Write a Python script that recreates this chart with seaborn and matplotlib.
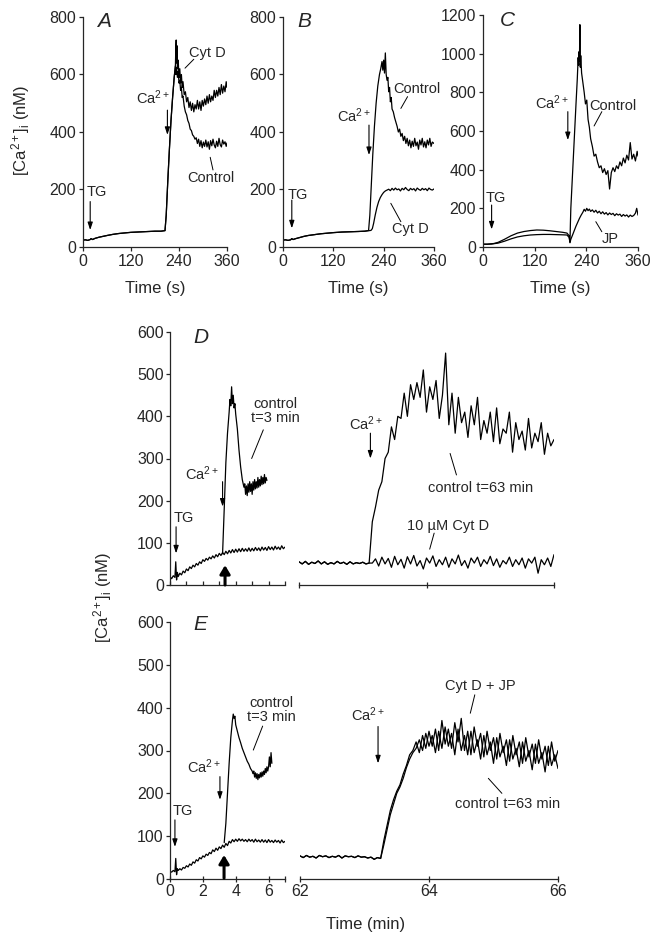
import matplotlib
matplotlib.use("Agg")
import matplotlib.pyplot as plt
import seaborn as sns

# ---- data ----
# panel A (time in s, [Ca2+]i in nM)
a_base_t = [0, 6, 12, 18, 20, 24, 30, 40, 50, 60, 75, 90, 105, 120, 135, 150, 165, 180, 195, 205]
a_base_y = [24, 25, 23, 26, 29, 26, 30, 34, 37, 40, 44, 47, 49, 51, 52, 53, 54, 55, 55, 57]
a_rise_t = [208, 212, 216, 220, 224, 228, 231]
a_rise_y = [110, 230, 340, 440, 520, 590, 630]
a_cytd_t = [232, 233, 234, 235, 236, 238, 240, 242, 244, 246, 248, 250, 253, 256, 259, 262, 265,
            268, 271, 274, 277, 280, 283, 286, 289, 292, 295, 298, 301, 304, 307, 310, 313, 316,
            319, 322, 325, 328, 331, 334, 337, 340, 343, 346, 349, 352, 355, 358, 360]
a_cytd_y = [690, 720, 640, 700, 620, 650, 590, 620, 570, 600, 555, 575, 530, 540, 505, 520, 485,
            505, 475, 500, 470, 495, 480, 510, 480, 505, 475, 510, 490, 515, 495, 525, 500, 530,
            505, 525, 510, 545, 520, 545, 525, 555, 530, 565, 535, 560, 540, 575, 555]
a_ctrl_t = [232, 234, 236, 238, 240, 242, 244, 246, 248, 250, 253, 256, 259, 262, 265, 268, 271,
            274, 277, 280, 283, 286, 289, 292, 295, 298, 301, 304, 307, 310, 313, 316, 319, 322,
            325, 328, 331, 334, 337, 340, 343, 346, 349, 352, 355, 358, 360]
a_ctrl_y = [600, 625, 590, 610, 570, 580, 545, 555, 520, 525, 490, 470, 460, 440, 430, 410, 405,
            390, 385, 375, 380, 360, 375, 350, 370, 345, 365, 350, 372, 348, 366, 340, 370, 352,
            375, 355, 345, 368, 350, 378, 356, 348, 372, 358, 366, 350, 362]

# panel B
b_base_t = [0, 6, 12, 18, 21, 24, 30, 40, 50, 60, 75, 90, 105, 120, 140, 160, 180, 195, 204]
b_base_y = [24, 25, 23, 25, 29, 26, 29, 33, 37, 40, 43, 46, 48, 50, 52, 53, 54, 55, 57]
b_ctrl_t = [207, 210, 214, 218, 222, 226, 230, 233, 236, 238, 240, 242, 244, 246, 248, 250, 252,
            254, 256, 258, 260, 263, 266, 269, 272, 275, 278, 281, 284, 287, 290, 293, 296, 299,
            302, 305, 308, 311, 314, 317, 320, 323, 326, 329, 332, 335, 338, 341, 344, 347, 350,
            353, 356, 360]
b_ctrl_y = [110, 200, 320, 420, 500, 560, 600, 620, 645, 615, 650, 605, 675, 600, 580, 590, 540,
            555, 505, 520, 480, 470, 450, 435, 420, 400, 410, 385, 395, 370, 385, 360, 378, 352,
            372, 345, 368, 350, 378, 352, 365, 340, 372, 355, 378, 348, 366, 345, 372, 355, 378,
            350, 365, 360]
b_cytd_t = [207, 210, 213, 216, 220, 224, 228, 232, 236, 240, 244, 248, 252, 256, 260, 264, 268,
            272, 276, 280, 284, 288, 292, 296, 300, 304, 308, 312, 316, 320, 324, 328, 332, 336,
            340, 344, 348, 352, 356, 360]
b_cytd_y = [57, 58, 64, 82, 112, 138, 158, 172, 182, 190, 195, 198, 201, 196, 204, 198, 205,
            199, 202, 195, 204, 199, 207, 200, 196, 204, 199, 203, 195, 205, 200, 197, 204, 199,
            203, 196, 205, 200, 198, 202]

# panel C
c_base_t = [0, 10, 20, 25, 35, 50, 65, 80, 95, 110, 125, 140, 155, 170, 185, 195, 200, 202]
c_ctrl_base_y = [15, 15, 17, 18, 24, 40, 58, 72, 80, 85, 88, 87, 84, 80, 76, 72, 58, 25]
c_jp_base_y = [14, 14, 15, 17, 20, 30, 42, 52, 58, 62, 64, 65, 65, 64, 63, 62, 50, 22]
c_ctrl_t = [203, 204, 208, 212, 216, 219, 221, 222, 223, 224, 225, 226, 227, 229, 232, 235, 238,
            241, 244, 247, 250, 254, 258, 262, 266, 270, 274, 278, 282, 286, 290, 294, 298, 302,
            306, 310, 314, 318, 322, 326, 330, 334, 338, 342, 346, 350, 354, 358, 360]
c_ctrl_y = [120, 200, 380, 560, 740, 870, 980, 940, 1010, 960, 1150, 930, 990, 900, 850, 800,
            740, 760, 660, 620, 560, 520, 470, 480, 440, 410, 420, 385, 405, 375, 395, 300, 385,
            410, 390, 420, 405, 440, 420, 460, 435, 475, 450, 540, 455, 480, 445, 495, 470]
c_jp_t = [204, 208, 212, 216, 220, 224, 228, 232, 235, 238, 241, 244, 247, 250, 254, 258, 262,
          266, 270, 274, 278, 282, 286, 290, 294, 298, 302, 306, 310, 314, 318, 322, 326, 330,
          334, 338, 342, 346, 350, 354, 357, 360]
c_jp_y = [40, 62, 85, 108, 128, 148, 165, 180, 195, 185, 200, 188, 196, 184, 192, 180, 190, 176,
          185, 172, 182, 170, 178, 166, 176, 168, 174, 162, 172, 165, 170, 158, 168, 160, 166,
          155, 165, 158, 163, 175, 200, 165]

# panels D and E, left part (time in min)
left_base_t = [0.0, 0.1, 0.2, 0.3, 0.35, 0.4, 0.45, 0.5,
               0.6, 0.7, 0.8, 0.9, 1.0, 1.1, 1.2, 1.3, 1.4, 1.5,
               1.6, 1.7, 1.8, 1.9, 2.0, 2.1, 2.2, 2.3, 2.4, 2.5,
               2.6, 2.7, 2.8, 2.9, 3.0, 3.1, 3.2, 3.3, 3.4, 3.5,
               3.6, 3.7, 3.8, 3.9, 4.0, 4.1, 4.2, 4.3, 4.4, 4.5,
               4.6, 4.7, 4.8, 4.9, 5.0, 5.1, 5.2, 5.3, 5.4, 5.5,
               5.6, 5.7, 5.8, 5.9, 6.0, 6.1, 6.2, 6.3, 6.4, 6.5,
               6.6, 6.7, 6.8, 6.9, 7.0]
d_base_y = [20, 15, 22, 18, 55, 12, 30, 20,
            28, 24, 33, 29, 38, 34, 43, 39, 47, 43,
            51, 47, 55, 51, 60, 56, 63, 59, 66, 62,
            69, 64, 72, 67, 75, 70, 77, 72, 80, 74,
            82, 76, 84, 77, 85, 78, 86, 79, 87, 80,
            86, 80, 88, 80, 87, 81, 89, 82, 88, 81,
            90, 83, 89, 82, 91, 84, 90, 83, 92, 85,
            90, 84, 93, 86, 90]
e_base_y = [18, 16, 20, 17, 48, 10, 24, 20,
            24, 21, 27, 25, 31, 28, 35, 32, 40, 37,
            45, 42, 50, 47, 54, 51, 58, 55, 62, 59,
            68, 64, 72, 67, 75, 71, 79, 74, 83, 78,
            88, 84, 92, 87, 93, 88, 94, 89, 93, 88,
            92, 87, 93, 88, 92, 86, 93, 87, 91, 86,
            92, 86, 91, 85, 92, 86, 90, 85, 91, 86,
            90, 84, 91, 85, 88]
d_ctrl3_t = [3.2, 3.3, 3.4, 3.5, 3.6, 3.65, 3.7, 3.75, 3.8, 3.85, 3.9, 3.95, 4.0, 4.1, 4.2, 4.3,
             4.4, 4.5, 4.55, 4.6, 4.65, 4.7, 4.75, 4.8, 4.85, 4.9, 4.95, 5.0, 5.05, 5.1, 5.15,
             5.2, 5.25, 5.3, 5.35, 5.4, 5.45, 5.5, 5.55, 5.6, 5.65, 5.7, 5.75, 5.8, 5.85, 5.9]
d_ctrl3_y = [74, 180, 290, 360, 410, 440, 425, 470, 430, 450, 420, 430, 405, 370, 320, 280,
             250, 232, 240, 215, 235, 212, 240, 220, 245, 222, 240, 215, 245, 225, 250,
             228, 245, 230, 255, 232, 250, 235, 258, 238, 255, 240, 262, 242, 255, 248]
e_ctrl3_t = [3.3, 3.4, 3.5, 3.6, 3.7, 3.8, 3.85, 3.9, 3.95, 4.0, 4.1, 4.2, 4.3, 4.4, 4.5, 4.6,
             4.7, 4.8, 4.9, 5.0, 5.05, 5.1, 5.15, 5.2, 5.25, 5.3, 5.35, 5.4, 5.45, 5.5, 5.55,
             5.6, 5.65, 5.7, 5.75, 5.8, 5.85, 5.9, 5.95, 6.0, 6.05, 6.1, 6.15, 6.2]
e_ctrl3_y = [85, 130, 200, 270, 330, 370, 385, 375, 380, 360, 345, 330, 318, 305, 295, 285,
             275, 268, 258, 252, 246, 252, 238, 248, 235, 246, 232, 244, 236, 248, 238,
             250, 240, 252, 244, 258, 248, 262, 252, 262, 285, 262, 295, 270]

# panel D, right part
d_pre_t = [62.0, 62.05, 62.1, 62.15, 62.2, 62.25, 62.3, 62.35, 62.4, 62.45, 62.5, 62.55, 62.6,
           62.65, 62.7, 62.75, 62.8, 62.85, 62.9, 62.95, 63.0, 63.05, 63.1]
d_pre_y = [55, 50, 56, 49, 54, 51, 57, 50, 55, 49, 53, 50, 56, 51, 54, 49, 55, 50, 53, 51, 54,
           50, 52]
d_post_t = [63.15, 63.2, 63.25, 63.3, 63.35, 63.4, 63.45, 63.5, 63.55, 63.6, 63.65, 63.7, 63.75,
            63.8, 63.85, 63.9, 63.95, 64.0, 64.05, 64.1, 64.15, 64.2, 64.25, 64.3, 64.35, 64.4,
            64.45, 64.5, 64.55, 64.6, 64.65, 64.7, 64.75, 64.8, 64.85, 64.9, 64.95, 65.0, 65.05,
            65.1, 65.15, 65.2, 65.25, 65.3, 65.35, 65.4, 65.45, 65.5, 65.55, 65.6, 65.65, 65.7,
            65.75, 65.8, 65.85, 65.9, 65.95, 66.0]
d_ctrl63_y = [150, 185, 225, 245, 300, 315, 375, 345, 400, 395, 455, 400, 475, 440, 480, 445,
              510, 410, 470, 440, 485, 395, 450, 550, 380, 455, 360, 445, 385, 410, 350, 425,
              380, 445, 345, 390, 360, 410, 340, 420, 335, 370, 360, 410, 315, 385, 345, 365,
              320, 395, 325, 360, 340, 385, 310, 360, 330, 345]
d_cytd_y = [52, 62, 45, 66, 50, 63, 42, 68, 48, 61, 40, 67, 50, 70, 45, 58, 38, 64, 52, 69, 44,
            60, 48, 66, 42, 62, 50, 71, 46, 58, 40, 64, 52, 66, 44, 60, 50, 68, 46, 62, 42, 58,
            50, 66, 44, 60, 48, 64, 40, 62, 52, 66, 28, 60, 48, 64, 44, 72]

# panel E, right part
e_pre_t = [62.0, 62.05, 62.1, 62.15, 62.2, 62.25, 62.3, 62.35, 62.4, 62.45, 62.5, 62.55, 62.6,
           62.65, 62.7, 62.75, 62.8, 62.85, 62.9, 62.95, 63.0, 63.05, 63.1, 63.15, 63.2, 63.25]
e_pre_y = [54, 50, 55, 51, 53, 49, 55, 52, 54, 50, 53, 51, 55, 49, 54, 52, 53, 50, 54, 51, 52,
           49, 51, 46, 50, 48]
e_post_t = [63.3, 63.35, 63.4, 63.45, 63.5, 63.55, 63.6, 63.65, 63.7, 63.75, 63.8, 63.85, 63.9,
            63.95, 64.0, 64.05, 64.1, 64.15, 64.2, 64.25, 64.3, 64.35, 64.4, 64.45, 64.5, 64.55,
            64.6, 64.65, 64.7, 64.75, 64.8, 64.85, 64.9, 64.95, 65.0, 65.05, 65.1, 65.15, 65.2,
            65.25, 65.3, 65.35, 65.4, 65.45, 65.5, 65.55, 65.6, 65.65, 65.7, 65.75, 65.8, 65.85,
            65.9, 65.95, 66.0]
e_jp_y = [90, 125, 160, 185, 205, 220, 245, 265, 290, 300, 320, 295, 335, 305, 345, 310, 350,
          300, 370, 315, 350, 305, 365, 320, 375, 300, 345, 290, 355, 310, 340, 285, 345, 300,
          330, 280, 340, 295, 325, 275, 335, 290, 320, 270, 330, 285, 315, 270, 325, 280, 310,
          265, 320, 275, 300]
e_ctrl63_y = [80, 115, 150, 175, 200, 215, 235, 260, 280, 295, 305, 325, 300, 340, 310, 335,
              295, 345, 305, 355, 310, 340, 290, 350, 300, 335, 290, 345, 295, 325, 280, 335,
              290, 320, 270, 330, 285, 310, 265, 325, 280, 305, 262, 320, 275, 300, 255, 315,
              270, 295, 250, 310, 265, 290, 258]

sec_ticks = [0, 120, 240, 360]
min_left_ticks = [0, 2, 4, 6]
min_right_ticks = [62, 64, 66]
nm_ticks_800 = [0, 200, 400, 600, 800]
nm_ticks_1200 = [0, 200, 400, 600, 800, 1000, 1200]
nm_ticks_600 = [0, 100, 200, 300, 400, 500, 600]

# ---- style ----
sns.set_style("ticks")
plt.rcParams['font.family'] = ['Liberation Sans', 'DejaVu Sans']
plt.rcParams['mathtext.fontset'] = 'custom'
plt.rcParams['mathtext.rm'] = 'Liberation Sans'
plt.rcParams['mathtext.it'] = 'Liberation Sans:italic'
plt.rcParams['mathtext.bf'] = 'Liberation Sans:bold'
plt.rcParams['axes.linewidth'] = 0.9

W, H = 660, 941
fig = plt.figure(figsize=(W / 100, H / 100), dpi=100)

TICK_FS = 11.5
TXT_FS = 10.5
CA = "Ca$^{2+}$"


def make_axes(x0, x1, y_top, y_bot):
    return fig.add_axes([x0 / W, 1 - y_bot / H, (x1 - x0) / W, (y_bot - y_top) / H])


def trace(ax, t, y, lw=0.9):
    sns.lineplot(x=t, y=y, ax=ax, color='k', linewidth=lw, estimator=None,
                 sort=False, legend=False)


def arrow(ax, x, y0, y1, lw=0.8, hw=0.15, hl=0.45):
    ax.annotate('', xy=(x, y1), xytext=(x, y0), annotation_clip=False,
                arrowprops=dict(arrowstyle=f'-|>,head_width={hw},head_length={hl}',
                                color='k', lw=lw, shrinkA=0, shrinkB=0))


def leader(ax, x0, y0, x1, y1):
    ax.plot([x0, x1], [y0, y1], color='k', lw=0.7, clip_on=False)


def label(ax, x, y, s, ha='left', va='center', fs=TXT_FS, **kw):
    ax.text(x, y, s, ha=ha, va=va, fontsize=fs, clip_on=False, **kw)


def letter(ax, x, y, s):
    ax.text(x, y, s, ha='left', va='center', fontsize=15, style='italic')


def style_sec(ax, yticks):
    ax.set_xlim(0, 360)
    ax.set_ylim(0, yticks[-1])
    ax.set_xticks(sec_ticks)
    ax.set_yticks(yticks)
    sns.despine(ax=ax)
    ax.tick_params(direction='out', length=3, width=0.9, labelsize=TICK_FS, pad=2)
    ax.set_xlabel('Time (s)', fontsize=12, labelpad=9)
    ax.set_ylabel('')


# ---- panel A ----
ax_a = make_axes(83, 227, 17, 247)
trace(ax_a, a_base_t + a_rise_t + a_cytd_t, a_base_y + a_rise_y + a_cytd_y)
trace(ax_a, a_base_t + a_rise_t + a_ctrl_t, a_base_y + a_rise_y + a_ctrl_y)
style_sec(ax_a, nm_ticks_800)
letter(ax_a, 35, 785, 'A')
label(ax_a, 10, 190, 'TG')
arrow(ax_a, 18, 158, 59)
label(ax_a, 175, 518, CA, ha='center')
arrow(ax_a, 211, 476, 390)
label(ax_a, 265, 676, 'Cyt D')
leader(ax_a, 277, 653, 255, 622)
label(ax_a, 260, 240, 'Control')
leader(ax_a, 325, 268, 318, 312)

# ---- panel B ----
ax_b = make_axes(283, 434, 17, 247)
trace(ax_b, b_base_t + b_ctrl_t, b_base_y + b_ctrl_y)
trace(ax_b, b_base_t + b_cytd_t, b_base_y + b_cytd_y)
style_sec(ax_b, nm_ticks_800)
letter(ax_b, 34, 785, 'B')
label(ax_b, 12, 181, 'TG')
arrow(ax_b, 21, 163, 65)
label(ax_b, 170, 456, CA, ha='center')
arrow(ax_b, 205, 424, 320)
label(ax_b, 264, 550, 'Control')
leader(ax_b, 297, 523, 281, 482)
label(ax_b, 259, 63, 'Cyt D')
leader(ax_b, 281, 88, 257, 152)

# ---- panel C ----
ax_c = make_axes(483, 638, 15, 247)
trace(ax_c, c_base_t + c_ctrl_t, c_ctrl_base_y + c_ctrl_y)
trace(ax_c, c_base_t + c_jp_t, c_jp_base_y + c_jp_y)
style_sec(ax_c, nm_ticks_1200)
letter(ax_c, 40, 1170, 'C')
label(ax_c, 5, 256, 'TG')
arrow(ax_c, 20, 217, 91)
label(ax_c, 160, 748, CA, ha='center')
arrow(ax_c, 197, 700, 553)
label(ax_c, 247, 729, 'Control')
leader(ax_c, 276, 700, 258, 626)
label(ax_c, 276, 41, 'JP')
leader(ax_c, 276, 79, 262, 131)

fig.text(21 / W, 1 - 130 / H, "[Ca$^{2+}$]$_{\\rm i}$ (nM)", rotation=90,
         ha='center', va='center', fontsize=12)


# ---- panels D and E ----
def style_min_left(ax, labels):
    ax.set_xlim(0, 7)
    ax.set_ylim(0, 600)
    ax.set_yticks(nm_ticks_600)
    sns.despine(ax=ax)
    ax.tick_params(axis='y', direction='out', length=3, width=0.9, labelsize=TICK_FS, pad=1.5)
    if labels:
        ax.set_xticks(min_left_ticks + [7])
        ax.set_xticklabels([str(v) for v in min_left_ticks] + [''])
        ax.tick_params(axis='x', direction='inout', length=5, width=0.9,
                       labelsize=TICK_FS, pad=1)
    else:
        ax.set_xticks([0, 1, 2, 3, 4, 5, 6, 7])
        ax.set_xticklabels([])
        ax.tick_params(axis='x', direction='in', length=3, width=0.9)
    ax.set_xlabel('')
    ax.set_ylabel('')


def style_min_right(ax, labels):
    ax.set_xlim(62, 66)
    ax.set_ylim(0, 600)
    ax.set_xticks(min_right_ticks)
    sns.despine(ax=ax, left=True)
    ax.set_yticks([])
    if labels:
        ax.set_xticklabels([str(v) for v in min_right_ticks])
    else:
        ax.set_xticklabels([])
    ax.tick_params(axis='x', direction='inout', length=5, width=0.9,
                   labelsize=TICK_FS, pad=1)
    ax.set_xlabel('')
    ax.set_ylabel('')


ax_d1 = make_axes(170, 285, 332, 585)
trace(ax_d1, left_base_t, d_base_y)
trace(ax_d1, d_ctrl3_t, d_ctrl3_y)
style_min_left(ax_d1, False)
letter(ax_d1, 1.4, 588, 'D')
label(ax_d1, 0.2, 159, 'TG')
arrow(ax_d1, 0.37, 138, 75)
label(ax_d1, 1.92, 263, CA, ha='center')
arrow(ax_d1, 3.2, 245, 186)
arrow(ax_d1, 3.35, 0, 47, lw=2.2, hw=0.3, hl=0.5)
label(ax_d1, 6.4, 446, 'control\nt=3 min', ha='center', va='top', linespacing=1.05)
leader(ax_d1, 5.68, 368, 4.97, 300)

ax_d2 = make_axes(299, 554, 332, 585)
trace(ax_d2, d_pre_t + d_post_t, d_pre_y + d_ctrl63_y)
trace(ax_d2, d_pre_t + d_post_t, d_pre_y + d_cytd_y)
style_min_right(ax_d2, False)
label(ax_d2, 63.05, 383, CA, ha='center')
arrow(ax_d2, 63.12, 360, 300)
label(ax_d2, 64.02, 230, 'control t=63 min')
leader(ax_d2, 64.37, 312, 64.47, 261)
label(ax_d2, 63.69, 140, '10 µM Cyt D')
leader(ax_d2, 64.12, 123, 64.05, 85)

ax_e1 = make_axes(170, 285, 622, 879)
trace(ax_e1, left_base_t, e_base_y)
trace(ax_e1, e_ctrl3_t, e_ctrl3_y)
style_min_left(ax_e1, True)
letter(ax_e1, 1.4, 595, 'E')
label(ax_e1, 0.17, 159, 'TG')
arrow(ax_e1, 0.3, 138, 75)
label(ax_e1, 2.07, 263, CA, ha='center')
arrow(ax_e1, 3.04, 239, 185)
arrow(ax_e1, 3.29, 2, 56, lw=2.2, hw=0.3, hl=0.5)
label(ax_e1, 6.19, 428, 'control\nt=3 min', ha='center', va='top', linespacing=1.05)
leader(ax_e1, 5.64, 357, 5.07, 301)

ax_e2 = make_axes(300, 558, 622, 879)
trace(ax_e2, e_pre_t + e_post_t, e_pre_y + e_jp_y)
trace(ax_e2, e_pre_t + e_post_t, e_pre_y + e_ctrl63_y)
style_min_right(ax_e2, True)
label(ax_e2, 63.05, 383, CA, ha='center')
arrow(ax_e2, 63.21, 356, 270)
label(ax_e2, 64.25, 451, 'Cyt D + JP')
leader(ax_e2, 64.71, 430, 64.64, 387)
label(ax_e2, 64.40, 175, 'control t=63 min')
leader(ax_e2, 64.92, 235, 65.13, 200)

fig.text(103 / W, 1 - 597 / H, "[Ca$^{2+}$]$_{\\rm i}$ (nM)", rotation=90,
         ha='center', va='center', fontsize=12)
fig.text(366 / W, 1 - 925 / H, 'Time (min)', ha='center', va='center', fontsize=12)

fig.savefig('out.png', dpi=100)
